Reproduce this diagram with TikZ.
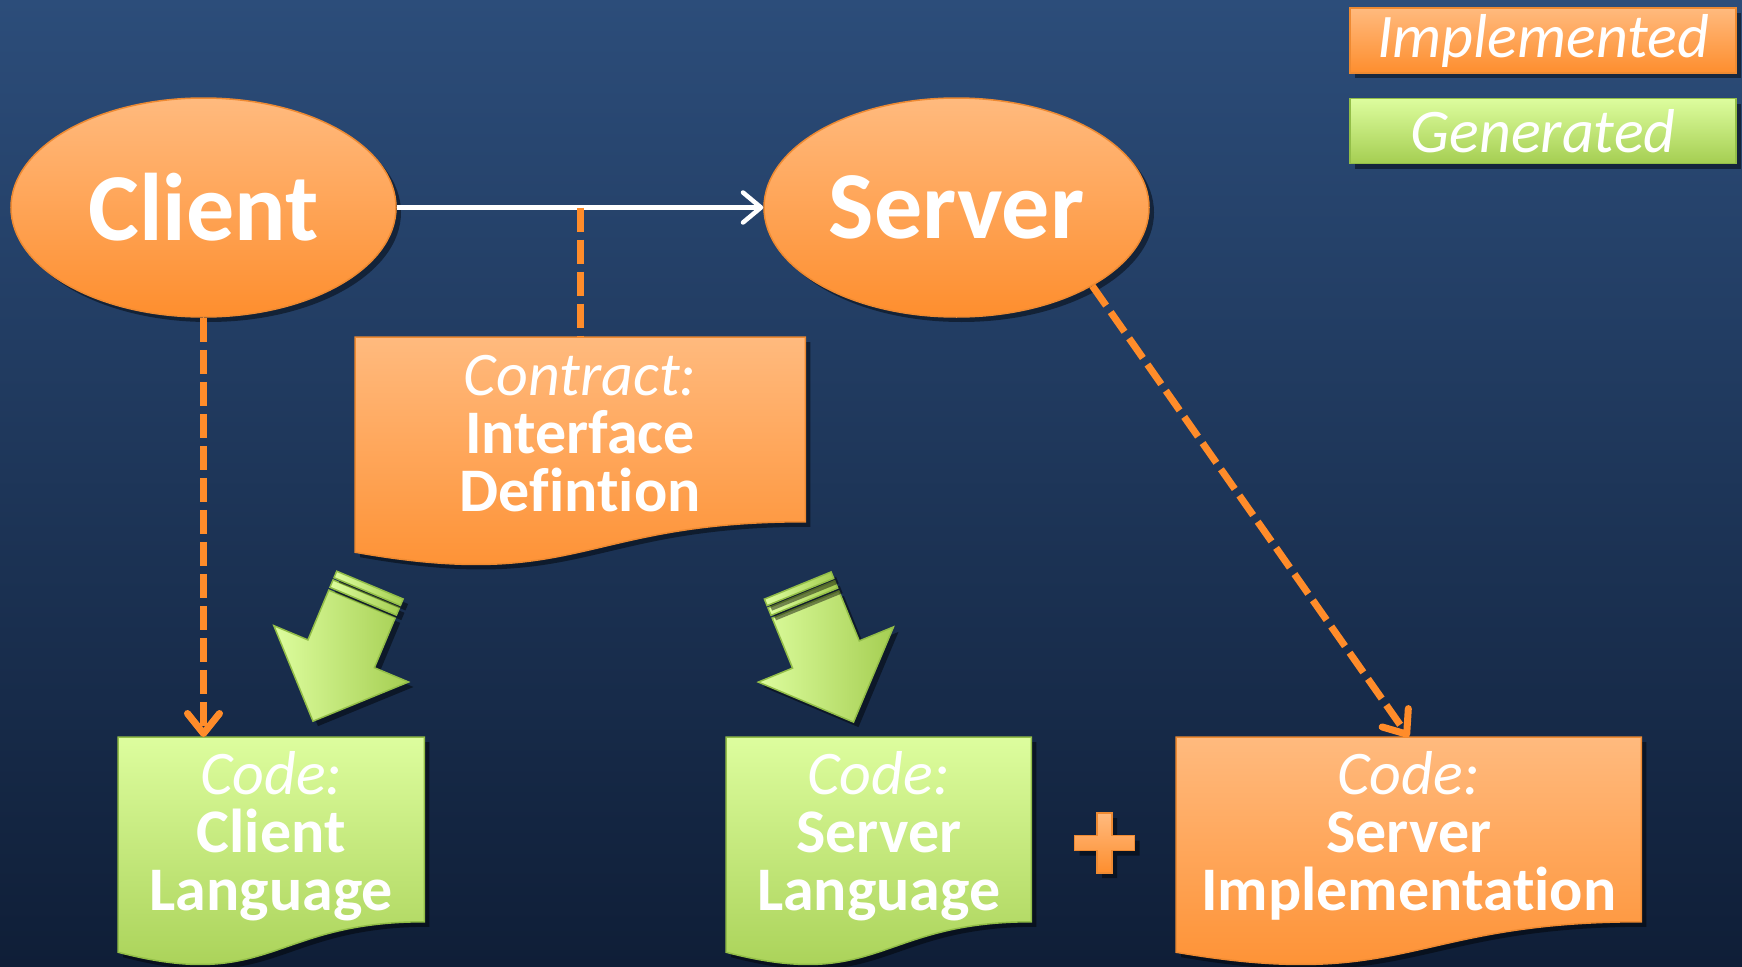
\documentclass[tikz,border=0pt]{standalone}
\usepackage{fontspec}
\setmainfont{Carlito}[Ligatures={NoCommon,NoContextual,NoRequired}]
\usetikzlibrary{shapes.geometric,arrows.meta,calc,shadows}
\definecolor{bgtop}{HTML}{2C4D7A}
\definecolor{bgbot}{HTML}{0F1E37}
\definecolor{orTop}{HTML}{FFBA7E}
\definecolor{orBot}{HTML}{FE8E2E}
\definecolor{orLine}{HTML}{EE8A32}
\definecolor{orDash}{HTML}{FF8C2A}
\definecolor{grTop}{HTML}{DDFD9E}
\definecolor{grBot}{HTML}{A5CE52}
\definecolor{grLine}{HTML}{93BE48}
\newcommand\docshape[2]{%
  \path[#2] (#1.north west) -- (#1.north east) -- ($(#1.north east)!0.802!(#1.south east)$)
   .. controls ($(#1.north)!0.802!(#1.south)$) and ($(#1.north)!1.1075!(#1.south)$) .. ($(#1.north west)!0.934!(#1.south west)$) -- cycle;}
\tikzset{
  shad/.style={drop shadow={shadow xshift=5pt, shadow yshift=-5pt, opacity=0.45, fill=black}},
  orfill/.style={top color=orTop, bottom color=orBot, draw=orLine, line width=1.5pt},
  grfill/.style={top color=grTop, bottom color=grBot, draw=grLine, line width=1.5pt},
  oval/.style={ellipse, minimum width=385pt, minimum height=219pt, inner sep=0pt, orfill, shad,
    text=white, font=\fontsize{96}{96}\selectfont\bfseries},
  frame/.style={rectangle, inner sep=0pt, draw=none, anchor=north west, minimum height=230pt},
  doctext/.style={text=white, align=center, font=\fontsize{62}{58}\selectfont, inner sep=0pt},
  legendbox/.style={rectangle, minimum width=386pt, minimum height=65pt, inner sep=0pt, shad,
    text=white, font=\fontsize{62}{62}\selectfont\itshape},
  dashline/.style={draw=orDash, line width=7pt, dash pattern=on 24pt off 8pt},
  dashtip/.style={-{Straight Barb[length=20pt,width=32pt,round]}},
  whitearrow/.style={draw=white, line width=4.5pt, -{Straight Barb[length=18pt,width=30pt,round]}},
  greenarrow/.style={left color=grTop, right color=grBot, draw=grLine, line width=1.5pt, shad},
}
\begin{document}
\begin{tikzpicture}[x=1pt,y=-1pt]
\useasboundingbox (0,0) rectangle (1742,966);
\fill[top color=bgtop, bottom color=bgbot] (0,0) rectangle (1742,966);

% legend
\node[legendbox, orfill] (impl) at (1543,40.5) {Implemented};
\node[legendbox, grfill] (gen) at (1543,131) {Generated};

% ellipses
\node[oval] (cli) at (203.5,207.5) {Client};
\node[oval] (srv) at (956.5,207.5) {Server};

% contract document
\node[frame, minimum width=450pt] (ctr) at (355,337) {};
\docshape{ctr}{orfill, shad}
\node[doctext] (ctrt) at ($(ctr.north)!0.42!(ctr.south)$) {\textit{Contract:}\\\textbf{Interface}\\\textbf{Defintion}};

% code documents
\node[frame, minimum width=306pt] (ccl) at (118,737) {};
\docshape{ccl}{grfill, shad}
\node[doctext] (cclt) at ($(ccl.north)!0.43!(ccl.south)$) {\textit{Code:}\\\textbf{Client}\\\textbf{Language}};

\node[frame, minimum width=305pt] (csl) at (726,737) {};
\docshape{csl}{grfill, shad}
\node[doctext] (cslt) at ($(csl.north)!0.43!(csl.south)$) {\textit{Code:}\\\textbf{Server}\\\textbf{Language}};

\node[frame, minimum width=465pt] (sim) at (1176,737) {};
\docshape{sim}{orfill, shad}
\node[doctext] (simt) at ($(sim.north)!0.43!(sim.south)$) {\textit{Code:}\\\textbf{Server}\\\textbf{Implementation}};

% plus sign
\path[orfill, shad] (1097,813) -- (1112,813) -- (1112,835.5) -- (1134.5,835.5) -- (1134.5,850.5)
  -- (1112,850.5) -- (1112,873) -- (1097,873) -- (1097,850.5) -- (1074.5,850.5) -- (1074.5,835.5)
  -- (1097,835.5) -- cycle;

% green generation arrows
\begin{scope}[shift={(362,604)}, rotate=-22.7]
  \path[greenarrow] (-36,0) -- (-36,54) -- (-73,54) -- (0,127) -- (73,54) -- (36,54) -- (36,0) -- cycle;
  \path[greenarrow] (-36,-11) rectangle (36,-3);
  \path[greenarrow] (-36,-20.5) rectangle (36,-13.5);
\end{scope}
\begin{scope}[shift={(805.5,604.5)}, rotate=22.2]
  \path[greenarrow] (-36,0) -- (-36,54) -- (-73,54) -- (0,127) -- (73,54) -- (36,54) -- (36,0) -- cycle;
  \path[greenarrow] (-36,-11) rectangle (36,-3);
  \path[greenarrow] (-36,-20.5) rectangle (36,-13.5);
\end{scope}

% connectors
\draw[whitearrow] (cli.east) -- (srv.west);
\draw[dashline] (ctr.north |- cli.east) -- (ctr.north);
\draw[dashline, dashtip] (cli.south) -- (cli.south |- ccl.north);
\draw[dashline, dashtip] (srv.-30.6) -- (sim.north);
\end{tikzpicture}
\end{document}
